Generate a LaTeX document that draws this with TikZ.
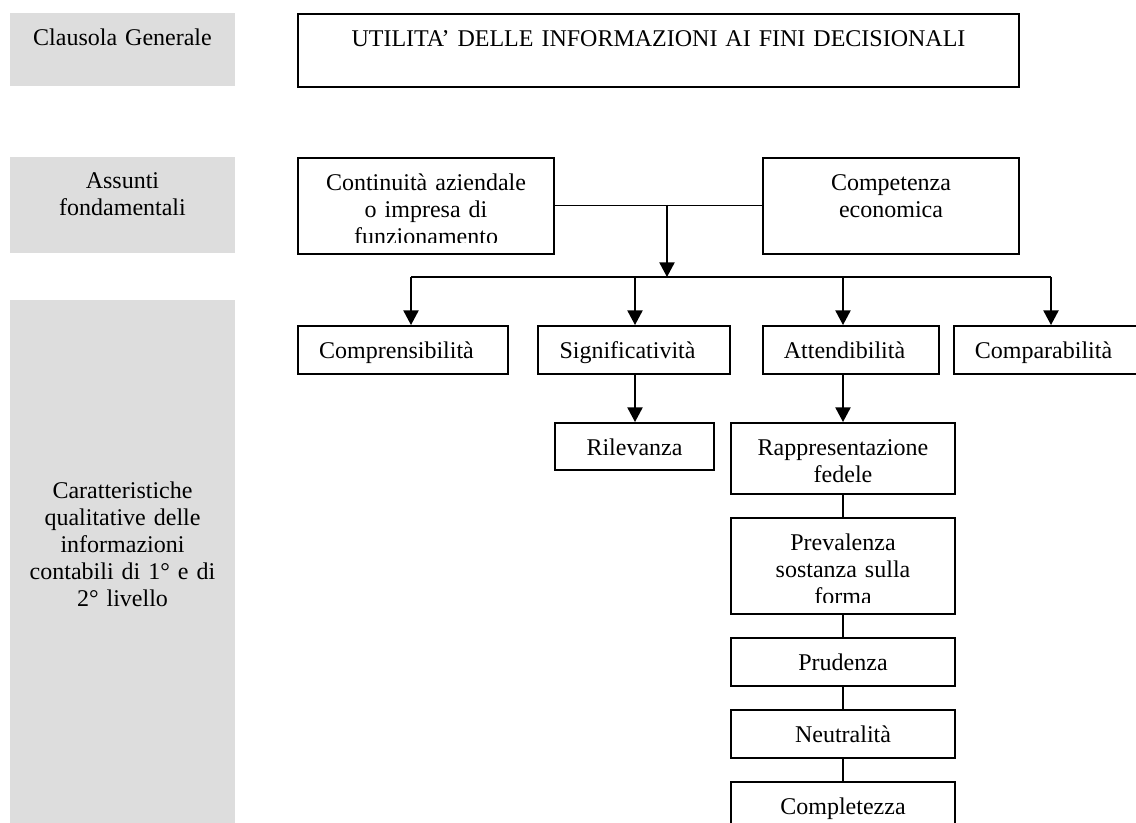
\documentclass[tikz,border=0pt]{standalone}
\usepackage{fontspec}
\setmainfont{Liberation Serif}
\usetikzlibrary{arrows.meta}
\definecolor{lblgray}{RGB}{221,221,221}

\begin{document}
\begin{tikzpicture}[x=0.5pt,y=-0.5pt,font=\fontsize{12pt}{13.5pt}\selectfont,
  cbox/.style={draw,line width=0.85pt,inner sep=0pt,anchor=north,align=center,text height=16.5pt},
  gbox/.style={fill=lblgray,inner sep=0pt,anchor=north,align=center,minimum width=112.5pt,text width=106pt},
  arr/.style={line width=0.75pt,-{Triangle[length=7.3pt,width=7.6pt]}},
  link/.style={line width=0.6pt}]
\useasboundingbox (0,0) rectangle (1136,823);
\node [gbox,text height=16pt,text depth=20.5pt] (g1) at (122.5,13) {Clausola Generale};
\node [gbox,text height=15.5pt,text depth=32.5pt] (g2) at (122.5,157) {Assunti\\fondamentali};
\node [gbox,text height=99pt,text depth=171pt] (g3) at (122.5,300)
  {Caratteristiche\\qualitative delle\\informazioni\\contabili di 1° e di\\2° livello};

\node [cbox,minimum width=360.5pt,text width=350pt,text depth=20pt] (util) at (658.5,13)
  {UTILITA’ DELLE INFORMAZIONI AI FINI DECISIONALI};
\node [cbox,minimum width=128pt,text width=120pt,text depth=31.5pt] (cont) at (426,157)
  {Continuità aziendale\\o impresa di\\funzionamento};
\fill [white] ([xshift=0.9pt,yshift=0.9pt]cont.south west) rectangle ([xshift=-0.9pt,yshift=6pt]cont.south east);
\node [cbox,minimum width=128pt,text width=120pt,text depth=31.5pt] (econ) at (891,157) {Competenza\\economica};

\node [cbox,minimum width=105pt,text width=100pt,text depth=7.5pt] (compr) at (403,325) {Comprensibilità\hspace{6.5pt}\null};
\node [cbox,minimum width=96pt,text width=92pt,text depth=7.5pt] (signif) at (634,325) {Significatività\hspace{6.5pt}\null};
\node [cbox,minimum width=88pt,text width=84pt,text depth=7.5pt] (attend) at (851,325) {Attendibilità\hspace{6.5pt}\null};
\node [cbox,minimum width=96pt,text width=92pt,text depth=7.5pt] (compar) at (1050,325) {Comparabilità\hspace{6.5pt}\null};

\node [cbox,minimum width=79.5pt,text width=75pt,text depth=7pt] (ril) at (634.5,422) {Rilevanza};
\node [cbox,minimum width=112pt,text width=106pt,text depth=19pt] (rapp) at (843,422) {Rappresentazione\\fedele};
\node [cbox,minimum width=112pt,text width=106pt,text depth=31.5pt] (prev) at (843,517)
  {Prevalenza\\sostanza sulla\\forma};
\fill [white] ([xshift=0.9pt,yshift=0.9pt]prev.south west) rectangle ([xshift=-0.9pt,yshift=6pt]prev.south east);
\node [cbox,minimum width=112pt,text width=106pt,text depth=7.5pt] (prud) at (843,637) {Prudenza};
\node [cbox,minimum width=112pt,text width=106pt,text depth=7.5pt] (neut) at (843,709) {Neutralità};
\node [cbox,minimum width=112pt,text width=106pt,text depth=7.5pt] (compl) at (843,781) {Completezza};

\draw [link,line width=0.5pt] (cont.east) -- (econ.west);
\coordinate (jn) at (667,205);
\coordinate (bus) at (667,277);
\draw [arr] (jn) -- (bus);
\foreach \n/\x in {compr/411,signif/635,attend/843,compar/1051}
  \coordinate (d-\n) at (\x,277);
\draw [link] (d-compr) -- (d-compar);
\foreach \n in {compr,signif,attend,compar}
  \draw [arr] (d-\n) -- (d-\n |- \n.north);
\draw [arr] (d-signif |- signif.south) -- (d-signif |- ril.north);
\draw [arr] (attend.south -| rapp.north) -- (rapp.north);
\foreach \a/\b in {rapp/prev,prev/prud,prud/neut,neut/compl}
  \draw [link] (\a.south) -- (\b.north);
\end{tikzpicture}
\end{document}
